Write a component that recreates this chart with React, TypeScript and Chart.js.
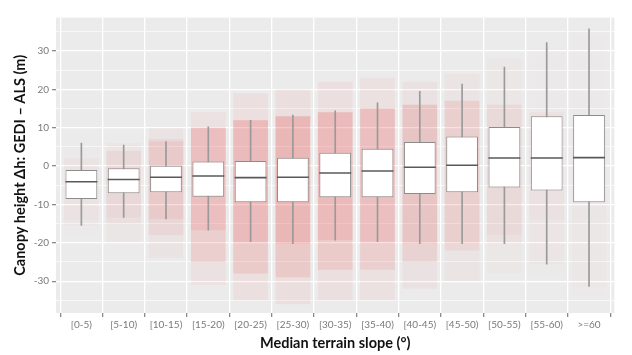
import React, { useEffect, useRef } from 'react';
import { Chart, registerables } from 'chart.js';

Chart.register(...registerables);

const categories = ['[0-5)', '[5-10)', '[10-15)', '[15-20)', '[20-25)', '[25-30)', '[30-35)', '[35-40)', '[40-45)', '[45-50)', '[50-55)', '[55-60)', '>=60'];
const whiskerLow = [-15.5, -13.4, -13.8, -16.7, -19.7, -20.2, -19.3, -19.7, -20.2, -20.2, -20.2, -25.6, -31.4];
const q1 = [-8.6, -7.1, -6.8, -8.0, -9.4, -9.4, -8.1, -8.1, -7.3, -6.8, -5.6, -6.4, -9.4];
const median = [-4.1, -3.5, -2.9, -2.6, -3.0, -2.9, -1.8, -1.3, -0.3, 0.2, 2.1, 2.1, 2.2];
const q3 = [-1.0, -0.6, 0.1, 1.2, 1.3, 2.2, 3.5, 4.5, 6.3, 7.7, 10.2, 13.0, 13.3];
const whiskerHigh = [6.0, 5.5, 6.4, 10.2, 11.9, 13.3, 14.4, 16.5, 19.5, 21.4, 25.8, 32.2, 35.8];

// extent of the jittered sample cloud (sparse outer range and dense core)
const cloudSparseLow = [-18, -20, -24, -31, -35, -36, -35, -35, -32, -30, -28, -28, -34];
const cloudSparseHigh = [5, 6, 10, 14, 19, 20, 22, 23, 22, 24, 28, 31, 34];
const cloudDenseLow = [-14, -15, -18, -25, -28, -29, -27, -27, -25, -22, -18, -14, -14];
const cloudDenseHigh = [2, 4, 7, 10, 12, 13, 14, 15, 16, 17, 16, 14, 12];
// relative number of samples per slope class
const sampleShare = [0.12, 0.35, 0.6, 0.85, 0.95, 1.0, 0.95, 0.85, 0.7, 0.5, 0.3, 0.15, 0.1];

const yTicks = [-35, -30, -25, -20, -15, -10, -5, 0, 5, 10, 15, 20, 25, 30, 35];

export default function App() {
  const ref = useRef<HTMLCanvasElement | null>(null);

  useEffect(() => {
    document.body.style.margin = '0';
    if (!ref.current) return;

    const bgPlugin = {
      id: 'panelBg',
      beforeDraw(chart: any) {
        const { ctx, chartArea } = chart;
        ctx.save();
        ctx.fillStyle = '#EBEBEB';
        ctx.fillRect(chartArea.left, chartArea.top, chartArea.right - chartArea.left, chartArea.bottom - chartArea.top);
        ctx.restore();
      },
    };

    const cloud = (alpha: number) => sampleShare.map((s) => `rgba(235,60,60,${(alpha * s).toFixed(3)})`);

    const chart = new Chart(ref.current, {
      type: 'bar',
      data: {
        datasets: [
          {
            type: 'scatter' as any,
            label: 'median',
            data: categories.map((_, i) => ({ x: i, y: median[i] })),
            pointStyle: 'line',
            pointRadius: 16,
            borderColor: '#595959',
            borderWidth: 1.6,
            backgroundColor: '#595959',
            order: 1,
          } as any,
          {
            label: 'box',
            data: categories.map((_, i) => ({ x: i, y: [q1[i], q3[i]] })),
            backgroundColor: '#FFFFFF',
            borderColor: '#8C8C8C',
            borderWidth: 1,
            borderSkipped: false,
            grouped: false,
            categoryPercentage: 0.75,
            barPercentage: 1,
            order: 2,
          } as any,
          {
            label: 'whisker',
            data: categories.map((_, i) => ({ x: i, y: [whiskerLow[i], whiskerHigh[i]] })),
            backgroundColor: '#9A9A9A',
            barThickness: 1,
            grouped: false,
            order: 3,
          } as any,
          {
            label: 'core',
            data: categories.map((_, i) => ({ x: i, y: [whiskerLow[i], Math.min(whiskerHigh[i], cloudDenseHigh[i])] })),
            backgroundColor: cloud(0.12),
            grouped: false,
            categoryPercentage: 0.82,
            barPercentage: 1,
            order: 4,
          } as any,
          {
            label: 'dense',
            data: categories.map((_, i) => ({ x: i, y: [cloudDenseLow[i], cloudDenseHigh[i]] })),
            backgroundColor: cloud(0.13),
            grouped: false,
            categoryPercentage: 0.82,
            barPercentage: 1,
            order: 5,
          } as any,
          {
            label: 'sparse',
            data: categories.map((_, i) => ({ x: i, y: [cloudSparseLow[i], cloudSparseHigh[i]] })),
            backgroundColor: cloud(0.07),
            grouped: false,
            categoryPercentage: 0.82,
            barPercentage: 1,
            order: 6,
          } as any,
        ],
      },
      options: {
        responsive: false,
        animation: false,
        events: [],
        layout: { padding: { top: 9, right: 0, left: 0, bottom: 0 } },
        plugins: { legend: { display: false }, tooltip: { enabled: false } },
        scales: {
          x: {
            type: 'linear',
            min: -0.6,
            max: 12.6,
            offset: false,
            afterBuildTicks(scale: any) {
              scale.ticks = categories.map((_, i) => ({ value: i }));
            },
            afterFit(scale: any) {
              scale.height = 42;
            },
            border: { display: false },
            grid: {
              color: '#FFFFFF',
              lineWidth: 1.3,
              tickColor: '#8A8A8A',
              tickLength: 4,
            },
            ticks: {
              autoSkip: false,
              maxRotation: 0,
              padding: 2,
              color: '#7A7A7A',
              font: { family: 'Lato', size: 10 },
              callback: (v: any) => categories[Math.round(Number(v))] ?? '',
            },
            title: {
              display: true,
              text: 'Median terrain slope (°)',
              color: '#111111',
              font: { family: 'Lato', size: 14.5, weight: 'bold' },
              padding: { top: 0, bottom: 3 },
            },
          },
          y: {
            type: 'linear',
            min: -38.3,
            max: 38.7,
            afterBuildTicks(scale: any) {
              scale.ticks = yTicks.map((v) => ({ value: v }));
            },
            afterFit(scale: any) {
              scale.width = 56;
            },
            border: { display: false },
            grid: {
              color: '#FFFFFF',
              lineWidth: (c: any) => (c.tick && c.tick.value % 10 === 0 ? 1.3 : 0.6),
              tickColor: (c: any) => (c.tick && c.tick.value % 10 === 0 ? '#8A8A8A' : 'rgba(0,0,0,0)'),
              tickLength: 4,
            },
            ticks: {
              autoSkip: false,
              padding: 3,
              color: '#7A7A7A',
              font: { family: 'Lato', size: 10 },
              callback: (v: any) => (Number(v) % 10 === 0 ? String(v) : ''),
            },
            title: {
              display: true,
              text: 'Canopy height Δh: GEDI – ALS (m)',
              color: '#111111',
              font: { family: 'Lato', size: 14.5, weight: 'bold' },
              padding: { top: 12, bottom: 0 },
            },
          },
        },
      },
      plugins: [bgPlugin],
    } as any);

    return () => chart.destroy();
  }, []);

  return (
    <div style={{ width: 632, height: 355 }}>
      <canvas ref={ref} width={632} height={355} style={{ display: 'block' }} />
    </div>
  );
}
